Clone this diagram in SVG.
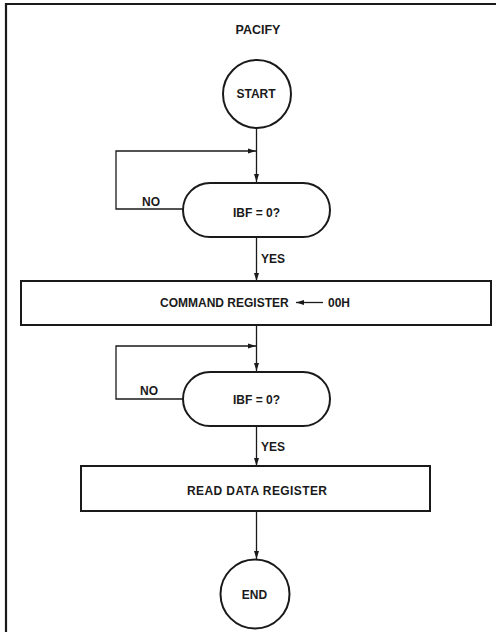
<svg xmlns="http://www.w3.org/2000/svg" width="496" height="632" viewBox="0 0 496 632">
<defs>
<style>
.shape{fill:#fff;stroke:#1a1a1a;stroke-width:2}
.conn{fill:none;stroke:#1a1a1a;stroke-width:1.3}
text{font-family:"Liberation Sans",Arial,Helvetica,sans-serif;font-weight:bold;font-size:12px;fill:#1a1a1a}
.c{text-anchor:middle}
</style>
<marker id="ah" markerWidth="8" markerHeight="6" refX="8" refY="3" orient="auto" markerUnits="userSpaceOnUse">
<path d="M0,0.5 L8,3 L0,5.5 Z" fill="#1a1a1a"/>
</marker>
</defs>
<rect width="496" height="632" fill="#fff"/>
<path d="M6,632 V4 H496" fill="none" stroke="#1a1a1a" stroke-width="2.2"/>
<text x="258" y="34" class="c" style="font-size:12.5px">PACIFY</text>
<g id="connectors">
<path class="conn" d="M256.5,128 V182" marker-end="url(#ah)"/>
<path class="conn" d="M183,209 H116 V151 H256" marker-end="url(#ah)"/>
<path class="conn" d="M256.5,237 V281" marker-end="url(#ah)"/>
<path class="conn" d="M256.5,325 V371" marker-end="url(#ah)"/>
<path class="conn" d="M183,399 H116 V346 H256" marker-end="url(#ah)"/>
<path class="conn" d="M256.5,426 V466" marker-end="url(#ah)"/>
<path class="conn" d="M256.5,511 V559" marker-end="url(#ah)"/>
<text x="142" y="206">NO</text>
<text x="261" y="263">YES</text>
<text x="140" y="395">NO</text>
<text x="261" y="451">YES</text>
</g>
<g id="start">
<circle class="shape" cx="257" cy="94" r="34"/>
<text x="256" y="97.5" class="c">START</text>
</g>
<g id="decision1">
<rect class="shape" x="183" y="183" width="147" height="54" rx="27" ry="27"/>
<text x="256.5" y="217" class="c">IBF = 0?</text>
</g>
<g id="command">
<rect class="shape" x="21" y="281" width="470" height="44"/>
<text x="160" y="307">COMMAND REGISTER</text>
<line x1="323" y1="302.5" x2="296" y2="302.5" class="conn" marker-end="url(#ah)"/>
<text x="328" y="307">00H</text>
</g>
<g id="decision2">
<rect class="shape" x="183" y="372" width="147" height="54" rx="27" ry="27"/>
<text x="256.5" y="404" class="c">IBF = 0?</text>
</g>
<g id="read">
<rect class="shape" x="81" y="466" width="349" height="45"/>
<text x="257" y="494.5" class="c" textLength="140" lengthAdjust="spacing">READ DATA REGISTER</text>
</g>
<g id="end">
<circle class="shape" cx="255" cy="594" r="34.5"/>
<text x="254.5" y="598.5" class="c">END</text>
</g>
</svg>
